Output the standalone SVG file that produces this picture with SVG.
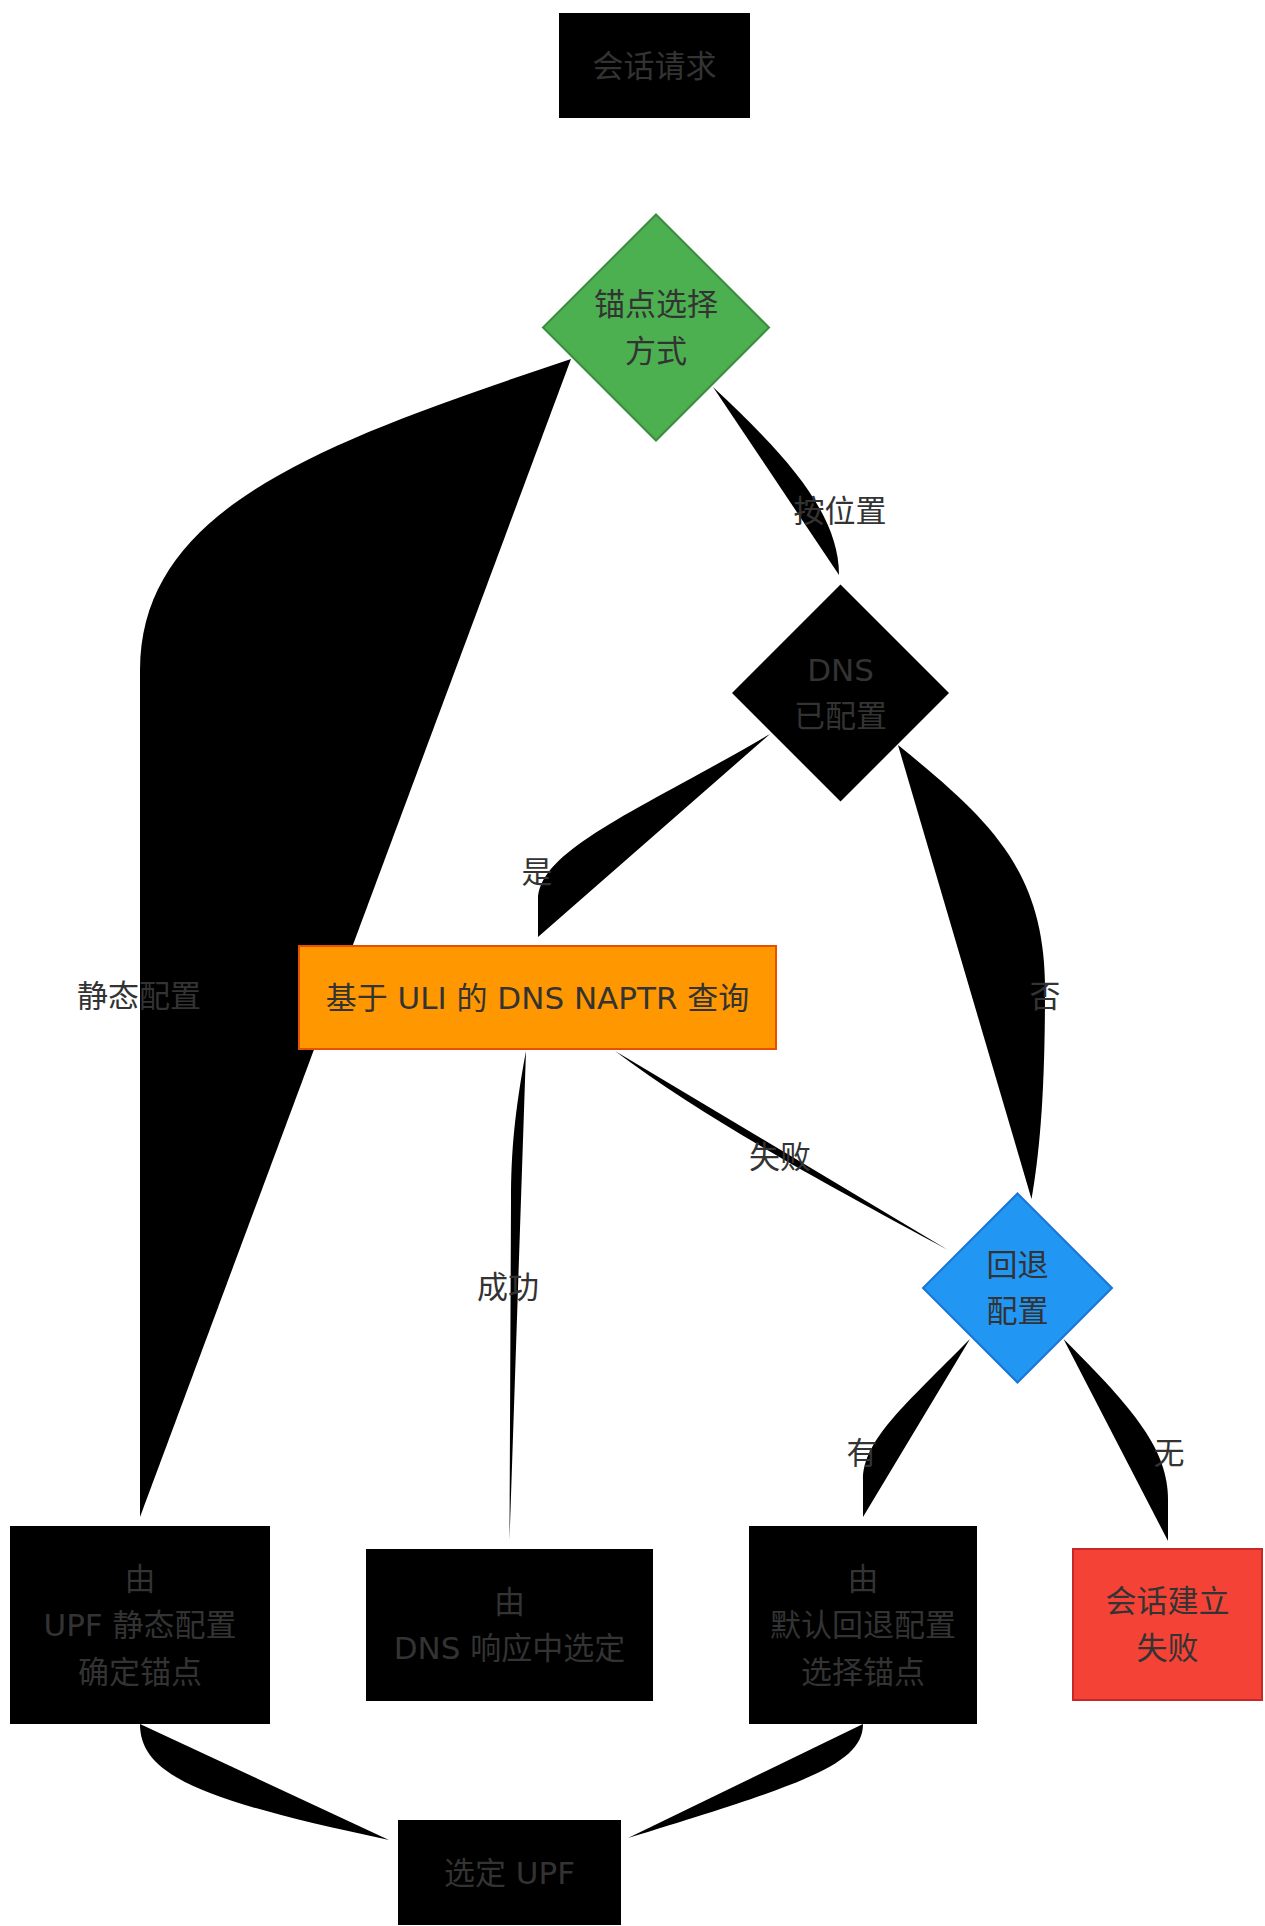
<svg xmlns="http://www.w3.org/2000/svg" width="1265" height="1926" viewBox="0 0 1265 1926">
<style>
  .edge { fill: #000; stroke: none; }
  .lbl { font-family: "DejaVu Sans", "Noto Sans CJK SC", sans-serif; font-size: 31px; fill: #333; text-anchor: middle; }
  .plain { fill: #000; stroke: none; }
  .green { fill: #4CAF50; stroke: #388E3C; stroke-width: 2; }
  .orange { fill: #FF9800; stroke: #E65100; stroke-width: 2; }
  .blue { fill: #2196F3; stroke: #1976D2; stroke-width: 2; }
  .red { fill: #F44336; stroke: #C62828; stroke-width: 2; }
</style>
<rect width="1265" height="1926" fill="#fff"/>
<g id="connectors">
  <path class="edge" d="M654.5,118 L656,214 Z"/>
  <path class="edge" d="M571,359 C330,440 140,505 140,670 L140,1517 Z"/>
  <path class="edge" d="M713,387 C780,450 839,510 839,575 Z"/>
  <path class="edge" d="M770,734 C640,810 538,850 538,900 L538,937 Z"/>
  <path class="edge" d="M898,745 C990,820 1045,870 1045,990 C1045,1090 1040,1150 1031.5,1199 Z"/>
  <path class="edge" d="M615,1051 C700,1115 800,1170 948,1250 Z"/>
  <path class="edge" d="M526,1051 C515,1110 511,1150 511,1200 L509.5,1540 Z"/>
  <path class="edge" d="M970,1339 C905,1405 863,1440 863,1480 L863,1517 Z"/>
  <path class="edge" d="M1063.5,1339 C1135,1410 1168,1450 1168,1500 L1168,1541 Z"/>
  <path class="edge" d="M509.5,1701 L509.5,1820 Z"/>
  <path class="edge" d="M140,1724 C140,1775 200,1800 389,1840 Z"/>
  <path class="edge" d="M863,1724 C863,1765 800,1785 628,1838 Z"/>
</g>
<g id="edge-labels">
  <text class="lbl" x="139" y="1007">静态配置</text>
  <text class="lbl" x="840" y="522">按位置</text>
  <text class="lbl" x="537" y="883">是</text>
  <text class="lbl" x="1045" y="1007">否</text>
  <text class="lbl" x="780" y="1168">失败</text>
  <text class="lbl" x="508" y="1298">成功</text>
  <text class="lbl" x="862" y="1464">有</text>
  <text class="lbl" x="1169" y="1464">无</text>
</g>
<g id="node-start">
  <rect class="plain" x="559" y="13" width="191" height="105"/>
  <text class="lbl" x="654.5" y="76.5">会话请求</text>
</g>
<g id="node-mode">
  <polygon class="green" points="656,214.5 769,327.5 656,440.5 543,327.5"/>
  <text class="lbl" x="656" y="315">锚点选择</text>
  <text class="lbl" x="656" y="362">方式</text>
</g>
<g id="node-dns">
  <polygon class="plain" points="840.5,584.5 949,693 840.5,801.5 732,693"/>
  <text class="lbl" x="840.5" y="681">DNS</text>
  <text class="lbl" x="840.5" y="727">已配置</text>
</g>
<g id="node-naptr">
  <rect class="orange" x="299" y="946" width="477" height="103"/>
  <text class="lbl" x="537.5" y="1008.5">基于 ULI 的 DNS NAPTR 查询</text>
</g>
<g id="node-fallback">
  <polygon class="blue" points="1017.5,1193.5 1112,1288 1017.5,1382.5 923,1288"/>
  <text class="lbl" x="1017.5" y="1276">回退</text>
  <text class="lbl" x="1017.5" y="1322">配置</text>
</g>
<g id="node-static">
  <rect class="plain" x="10" y="1526" width="260" height="198"/>
  <text class="lbl" x="140" y="1589.5">由</text>
  <text class="lbl" x="140" y="1636">UPF 静态配置</text>
  <text class="lbl" x="140" y="1682.5">确定锚点</text>
</g>
<g id="node-dnsresult">
  <rect class="plain" x="366" y="1549" width="287" height="152"/>
  <text class="lbl" x="509.5" y="1612.75">由</text>
  <text class="lbl" x="509.5" y="1659.25">DNS 响应中选定</text>
</g>
<g id="node-default">
  <rect class="plain" x="749" y="1526" width="228" height="198"/>
  <text class="lbl" x="863" y="1589.5">由</text>
  <text class="lbl" x="863" y="1636">默认回退配置</text>
  <text class="lbl" x="863" y="1682.5">选择锚点</text>
</g>
<g id="node-fail">
  <rect class="red" x="1073" y="1549" width="189" height="151"/>
  <text class="lbl" x="1167.5" y="1612">会话建立</text>
  <text class="lbl" x="1167.5" y="1659">失败</text>
</g>
<g id="node-selected">
  <rect class="plain" x="398" y="1820" width="223" height="105"/>
  <text class="lbl" x="509.5" y="1883.5">选定 UPF</text>
</g>
</svg>
